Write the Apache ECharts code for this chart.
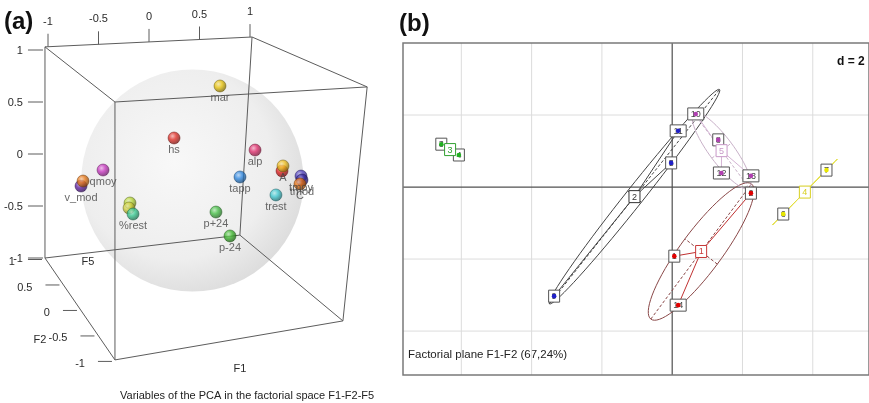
<!DOCTYPE html>
<html><head><meta charset="utf-8">
<script src="https://cdn.jsdelivr.net/npm/echarts@6/dist/echarts.min.js"></script>
<style>html,body{margin:0;padding:0;background:#fff}#c{width:869px;height:403px}</style>
</head><body><div id="c"></div>
<script>
// ================= Panel (a): PCA variables, projected onto the F1 (horizontal) / F5 (vertical) back face =================
const varNames  = ['mar','hs','alp','','A','tapp','trest','p+24','p-24','qmoy','v_mod','','','','%rest','tmoy','tmod','C'];
const varF1     = [0.703,0.248,1.050,1.317,1.327,0.901,1.257,0.663,0.802,-0.455,-0.673,-0.653,-0.188,-0.198,-0.158,1.505,1.515,1.495];
const varF5     = [0.654,0.154,0.038,-0.163,-0.115,-0.221,-0.394,-0.558,-0.788,-0.154,-0.308,-0.260,-0.471,-0.519,-0.577,-0.212,-0.250,-0.288];
const varColors = ['#e8c410','#e03028','#e0306e','#e02020','#f0c020','#3088e0','#40c8d0','#48c048','#40b830','#c838c0','#6020a0','#e87818','#b8d838','#d0d040','#38c890','#5040c0','#3828a0','#e87010'];

// projected cube corners (same units)
const boxX = [-1.03, 1.02, 2.16, -0.337, -1.03, 0.90, -0.337, 1.92];
const boxY = [ 1.03, 1.125, 0.645, 0.50, -1.00, -0.78, -1.98, -1.605];
const boxEdges = [[0,1],[0,3],[3,2],[1,2],[0,4],[4,5],[1,5],[5,7],[2,7],[3,6],[6,7],[4,6]];
const topTickValues = [-1,-0.5,0,0.5,1];
const topTickLabels = ['-1','-0.5','0','0.5','1'];
const sideTickValues = [1,0.5,0,-0.5,-1];
const sideTickLabels = ['1','0.5','0','-0.5','-1'];
const depthTickValues = [1,0.5,0,-0.5,-1];
const depthTickLabels = ['1','0.5','0','-0.5','-1'];
const axisNames = ['F5','F2','F1'];
const axisNameX = [-0.604,-1.079,0.901];
const axisNameY = [-1.04,-1.788,-2.067];
const sphereCenter = [0.43,-0.255];
const sphereRadius = 1.1;

// ================= Panel (b): factorial plane F1-F2 =================
const indLabels = ['3','4','9','5','11','10','8','12','13','1','14','2','6','7'];
const indX = [-6.57,-6.07,-3.36,-0.03,0.17,0.67,1.31,1.40,2.24,0.06,0.17,2.24,3.16,4.39];
const indY = [ 1.19, 0.89,-3.03, 0.67,1.56,2.03,1.31,0.39,0.31,-1.92,-3.28,-0.17,-0.75,0.47];
const indGroup = [3,3,2,2,2,5,5,5,5,1,1,1,4,4];
const groupNames = ['1','2','3','4','5'];
const groupLabelColors   = ['#c83838','#333333','#30a030','#d8d020','#c898c8'];
const groupDotColors     = ['#e00000','#2020c8','#20b020','#e8e800','#b040b0'];
const groupEllipseColors = ['#8a4848','#444444','#30a030','#e4e040','#c8b0c8'];
const groupStarColors    = ['#c03030','#444444','#30a030','#e4e040','#d4b4d4'];
const ellipseScale = 1.5;
const gridXValues = [-6,-4,-2,2,4];
const gridYValues = [2,-2,-4];
const panelBX = [-7.66, 5.6];
const panelBY = [-5.22, 4.0];

// ---------------- helpers ----------------
function shade(hex, f){
  const n = parseInt(hex.slice(1),16);
  let c = [n>>16&255, n>>8&255, n&255];
  c = c.map(v => f>=0 ? v+(255-v)*f : v*(1+f));
  return 'rgb('+c.map(Math.round).join(',')+')';
}
function seg(a,b,stroke,w,dash){
  return {type:'line', shape:{x1:a[0],y1:a[1],x2:b[0],y2:b[1]}, style:{stroke:stroke,lineWidth:w||1,fill:null,lineDash:dash||null}};
}
function txt(t,x,y,align,font,fill){
  return {type:'text', x:x, y:y, style:{text:t, font:font||'11px "Liberation Sans"', fill:fill||'#2a2a2a',
    align:align||'center', textAlign:align||'center', verticalAlign:'middle', textVerticalAlign:'middle'}};
}

function renderSphere(params, api){
  const c = api.coord(sphereCenter);
  const r = api.size([sphereRadius,0])[0];
  return {type:'circle', shape:{cx:c[0],cy:c[1],r:r}, style:{stroke:null,
    fill:{type:'radial',x:0.42,y:0.42,r:0.62,colorStops:[{offset:0,color:'#f8f8f8'},{offset:0.7,color:'#eeeeee'},{offset:1,color:'#dcdcdc'}]}}};
}

function renderFrameA(params, api){
  const P = (x,y) => api.coord([x,y]);
  const ch = [];
  const st = '#5c5c5c';
  boxEdges.forEach(e => ch.push(seg(P(boxX[e[0]],boxY[e[0]]), P(boxX[e[1]],boxY[e[1]]), st, 1)));
  topTickValues.forEach((v,i) => {
    const t = (v-boxX[0])/(boxX[1]-boxX[0]);
    const b = P(v, boxY[0]+t*(boxY[1]-boxY[0]));
    ch.push(seg([b[0],b[1]],[b[0],b[1]-13],st,1));
    ch.push(txt(topTickLabels[i], b[0], b[1]-25, 'center'));
  });
  sideTickValues.forEach((v,i) => {
    const b = P(boxX[0], v);
    ch.push(seg([b[0]-17,b[1]],[b[0]-2,b[1]],st,1));
    ch.push(txt(sideTickLabels[i], b[0]-22, b[1]+1, 'right'));
  });
  depthTickValues.forEach((v,i) => {
    const t = (1-v)/2;
    const b = P(boxX[4]+t*(boxX[6]-boxX[4]), boxY[4]+t*(boxY[6]-boxY[4]));
    ch.push(seg([b[0]-17,b[1]+1.5],[b[0]-3,b[1]+1.5],st,1));
    ch.push(txt(depthTickLabels[i], b[0]-30, b[1]+4, 'right'));
  });
  axisNames.forEach((n,i) => { const p = P(axisNameX[i], axisNameY[i]); ch.push(txt(n, p[0], p[1], 'center')); });
  return {type:'group', children:ch};
}

function renderPanelB(params, api){
  const P = (x,y) => api.coord([x,y]);
  const ch = [];
  gridXValues.forEach(v => ch.push(seg(P(v,panelBY[0]),P(v,panelBY[1]),'#dcdcdc',1)));
  gridYValues.forEach(v => ch.push(seg(P(panelBX[0],v),P(panelBX[1],v),'#dcdcdc',1)));
  ch.push(seg(P(0,panelBY[0]),P(0,panelBY[1]),'#505050',1.2));
  ch.push(seg(P(panelBX[0],0),P(panelBX[1],0),'#505050',1.2));
  const tl = P(panelBX[0],panelBY[1]), br = P(panelBX[1],panelBY[0]);
  ch.push({type:'rect', shape:{x:tl[0],y:tl[1],width:br[0]-tl[0],height:br[1]-tl[1]}, style:{fill:null,stroke:'#7a7a7a',lineWidth:1.5}});

  const means = [];
  groupNames.forEach((gn, gi) => {
    const ids = indGroup.map((g,i)=>g===gi+1?i:-1).filter(i=>i>=0);
    const n = ids.length;
    const mx = ids.reduce((s,i)=>s+indX[i],0)/n, my = ids.reduce((s,i)=>s+indY[i],0)/n;
    means.push([mx,my,ids]);
    let a=0,b=0,c=0;
    ids.forEach(i=>{ const dx=indX[i]-mx, dy=indY[i]-my; a+=dx*dx; b+=dx*dy; c+=dy*dy; });
    a/=n; b/=n; c/=n;
    const tr=(a+c)/2, dd=Math.sqrt(Math.max(0,((a-c)/2)**2+b*b));
    const l1=tr+dd, l2=Math.max(0,tr-dd);
    const th=0.5*Math.atan2(2*b,a-c);
    const s1=ellipseScale*Math.sqrt(l1), s2=ellipseScale*Math.sqrt(l2);
    const ux=Math.cos(th), uy=Math.sin(th), vx=-uy, vy=ux;
    const pts=[];
    for(let k=0;k<=72;k++){ const t=k/72*2*Math.PI;
      pts.push(P(mx+s1*Math.cos(t)*ux+s2*Math.sin(t)*vx, my+s1*Math.cos(t)*uy+s2*Math.sin(t)*vy)); }
    const col = groupEllipseColors[gi];
    ch.push({type:'polyline', shape:{points:pts}, style:{fill:null,stroke:col,lineWidth:1}});
    ch.push(seg(P(mx-s1*ux,my-s1*uy),P(mx+s1*ux,my+s1*uy),col,1,[3,2]));
    if (s2>0.05) ch.push(seg(P(mx-s2*vx,my-s2*vy),P(mx+s2*vx,my+s2*vy),col,1,[3,2]));
  });
  means.forEach((m,gi) => { const c=P(m[0],m[1]); m[2].forEach(i => ch.push(seg(c,P(indX[i],indY[i]),groupStarColors[gi],1))); });
  indLabels.forEach((lb,i) => {
    const p = P(indX[i],indY[i]); const w = lb.length>1?16:11, h=12;
    ch.push({type:'rect', shape:{x:p[0]-w/2,y:p[1]-h/2,width:w,height:h}, style:{fill:'#fff',stroke:'#555',lineWidth:1}});
    ch.push(txt(lb,p[0],p[1]+0.5,'center','9px "Liberation Sans"','#444'));
  });
  indLabels.forEach((lb,i) => { const p=P(indX[i],indY[i]);
    ch.push({type:'circle', shape:{cx:p[0],cy:p[1],r:2.3}, style:{fill:groupDotColors[indGroup[i]-1],stroke:null}}); });
  means.forEach((m,gi) => {
    const p=P(m[0],m[1]); const w=11,h=12;
    ch.push({type:'rect', shape:{x:p[0]-w/2,y:p[1]-h/2,width:w,height:h}, style:{fill:'#fff',stroke:groupLabelColors[gi],lineWidth:1}});
    ch.push(txt(groupNames[gi],p[0],p[1]+0.5,'center','9px "Liberation Sans"',groupLabelColors[gi]));
  });
  return {type:'group', children:ch};
}

const varData = varNames.map((n,i) => ({
  name:n, value:[varF1[i],varF5[i]],
  itemStyle:{color:{type:'radial',x:0.38,y:0.35,r:0.65,colorStops:[
    {offset:0,color:shade(varColors[i],0.6)},{offset:0.45,color:varColors[i]},{offset:1,color:shade(varColors[i],-0.45)}]},
    borderColor:shade(varColors[i],-0.55), borderWidth:0.6},
  label:{show:n!==''}
}));

const chart = echarts.init(document.getElementById('c'), null, {renderer:'canvas'});
chart.setOption({
  animation:false,
  backgroundColor:'#fff',
  grid:[{left:48,top:50,width:202,height:208,show:false},{left:403,top:43,width:474,height:332,show:false}],
  xAxis:[{gridIndex:0,type:'value',min:-1,max:1,show:false},{gridIndex:1,type:'value',min:panelBX[0],max:panelBX[1],show:false}],
  yAxis:[{gridIndex:0,type:'value',min:-1,max:1,show:false},{gridIndex:1,type:'value',min:panelBY[0],max:panelBY[1],show:false}],
  graphic:[
    {type:'text',x:4,y:10,style:{text:'(a)',font:'bold 24px "Liberation Sans"',fill:'#111'}},
    {type:'text',x:399,y:12,style:{text:'(b)',font:'bold 24px "Liberation Sans"',fill:'#111'}},
    {type:'text',x:120,y:390,style:{text:'Variables of the PCA in the factorial space F1-F2-F5',font:'11px "Liberation Sans"',fill:'#222'}},
    {type:'text',x:408,y:349,style:{text:'Factorial plane F1-F2 (67,24%)',font:'11.5px "Liberation Sans"',fill:'#222'}},
    {type:'text',x:837,y:56,style:{text:'d = 2',font:'bold 12px "Liberation Sans"',fill:'#111'}}
  ],
  series:[
    {type:'custom',xAxisIndex:0,yAxisIndex:0,data:[[0,0]],renderItem:renderSphere,z:1,silent:true},
    {type:'custom',xAxisIndex:0,yAxisIndex:0,data:[[0,0]],renderItem:renderFrameA,z:2,silent:true},
    {type:'scatter',xAxisIndex:0,yAxisIndex:0,data:varData,symbolSize:12,clip:false,z:3,silent:true,
      label:{position:'bottom',distance:0,formatter:'{b}',fontSize:11,fontFamily:'Liberation Sans',color:'#444'}},
    {type:'custom',xAxisIndex:1,yAxisIndex:1,data:[[0,0]],renderItem:renderPanelB,z:2,silent:true}
  ]
});
</script>
</body></html>
